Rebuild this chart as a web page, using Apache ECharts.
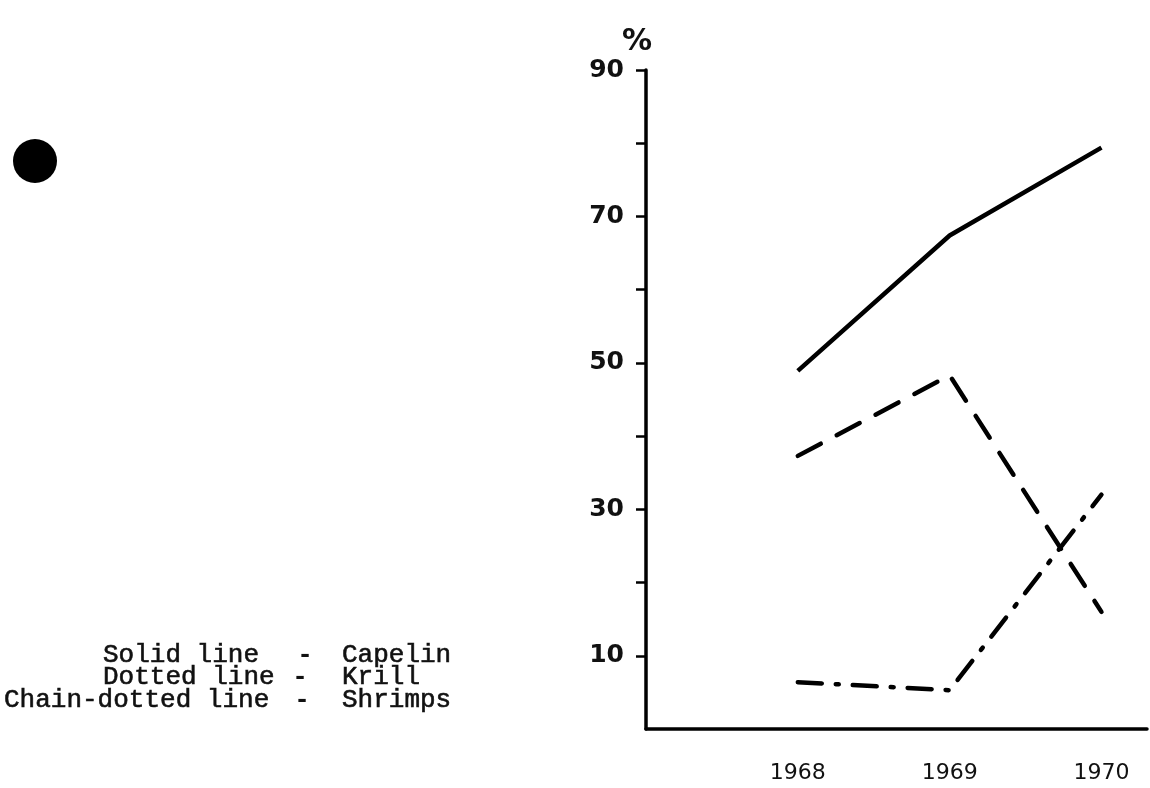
<!DOCTYPE html>
<html>
<head>
<meta charset="utf-8">
<script src="https://cdn.jsdelivr.net/npm/echarts@6/dist/echarts.min.js"></script>
<style>
  html, body { margin: 0; padding: 0; background: #fff; }
  #chart { width: 1150px; height: 788px; }
</style>
</head>
<body>
<div id="chart"></div>
<script>
const years = [1968, 1969, 1970];
const capelin = [48.9, 67.4, 79.4];
const krill = [37.3, 48.3, 16.0];
const shrimps = [6.4, 5.3, 32.0];
const yTickValues = [10, 20, 30, 40, 50, 60, 70, 80, 90];
const yLabelValues = [10, 30, 50, 70, 90];
const legendRows = [
  ['Solid line', 'Capelin'],
  ['Dotted line', 'Krill'],
  ['Chain-dotted line', 'Shrimps']
];

const pairs = arr => years.map((y, i) => [y, arr[i]]);
const ink = '#000';
const legendFont = '"Liberation Mono", "Courier New", monospace';

const graphics = [
  { type: 'circle', shape: { cx: 35, cy: 161, r: 22 }, style: { fill: ink } }
];
const rowY = [655, 677, 700];
const rowX = [103, 103, 4];
const dashX = [305, 300, 302];
legendRows.forEach((r, i) => {
  graphics.push({
    type: 'text', x: rowX[i], y: rowY[i],
    style: { text: r[0], font: '26px ' + legendFont, fill: '#111', textAlign: 'left', textVerticalAlign: 'middle',
             stroke: '#111', lineWidth: 0.6 }
  });
  graphics.push({
    type: 'text', x: dashX[i], y: rowY[i],
    style: { text: '-', font: 'bold 26px ' + legendFont, fill: '#111', textAlign: 'center', textVerticalAlign: 'middle' }
  });
  graphics.push({
    type: 'text', x: 342, y: rowY[i],
    style: { text: r[1], font: '26px ' + legendFont, fill: '#111', textAlign: 'left', textVerticalAlign: 'middle',
             stroke: '#111', lineWidth: 0.6 }
  });
});

const chart = echarts.init(document.getElementById('chart'));
chart.setOption({
  backgroundColor: '#fff',
  animation: false,
  grid: { left: 646, right: 0, top: 70, bottom: 59 },
  xAxis: {
    type: 'value', min: 1967, max: 1970.3, interval: 1,
    splitLine: { show: false },
    axisLine: { lineStyle: { color: ink, width: 3.5 } },
    axisTick: { show: false },
    axisLabel: {
      margin: 33, color: '#111', fontSize: 22, fontFamily: 'DejaVu Sans',
      formatter: v => years.includes(v) ? String(v) : ''
    }
  },
  yAxis: {
    type: 'value', min: 0, max: 90, interval: 10,
    name: '%', nameGap: 10,
    nameTextStyle: { color: '#111', fontSize: 30, fontWeight: 'bold', fontFamily: 'DejaVu Sans', align: 'right', padding: [0, -6, 0, 0] },
    splitLine: { show: false },
    axisLine: { show: true, lineStyle: { color: ink, width: 3.5 } },
    axisTick: { show: true, length: 10, customValues: yTickValues, lineStyle: { color: ink, width: 2.5 } },
    axisLabel: {
      margin: 22, color: '#111', fontSize: 25, fontWeight: 'bold', fontFamily: 'DejaVu Sans',
      formatter: v => yLabelValues.includes(v) ? String(v) : ''
    }
  },
  graphic: graphics,
  series: [
    { name: 'Capelin', type: 'line', data: pairs(capelin), symbol: 'none',
      lineStyle: { color: ink, width: 4.5, type: 'solid' } },
    { name: 'Krill', type: 'line', data: pairs(krill), symbol: 'none',
      lineStyle: { color: ink, width: 4.5, type: [26, 18], cap: 'round' } },
    { name: 'Shrimps', type: 'line', data: pairs(shrimps), symbol: 'none',
      lineStyle: { color: ink, width: 4.5, type: [24, 14, 3, 14], cap: 'round' } }
  ]
});
</script>
</body>
</html>
